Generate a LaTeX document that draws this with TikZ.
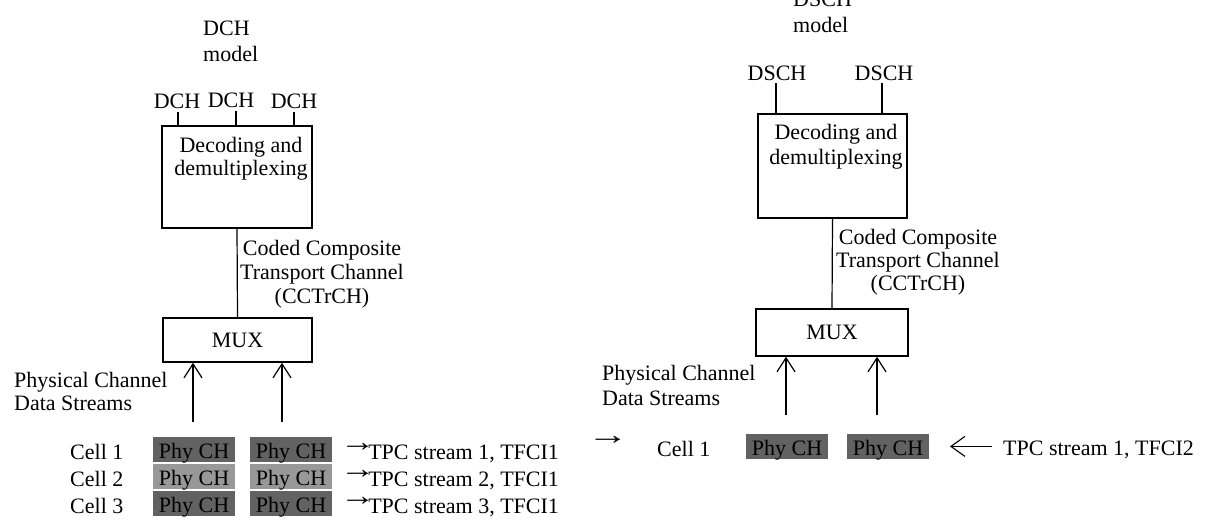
\documentclass[tikz,border=0pt]{standalone}
\usepackage{fontspec}
\setmainfont{Liberation Serif}
\usetikzlibrary{arrows.meta}
\definecolor{phydark}{RGB}{98,98,98}
\definecolor{phylight}{RGB}{152,152,152}
\newcommand{\tarr}{\kern-7pt\raisebox{8pt}{\scalebox{1.35}[1.1]{\fontsize{26}{26}\selectfont →}}\kern-7pt}
\newcommand{\tarrb}{\kern-8pt\raisebox{8pt}{\scalebox{1.6}[1.1]{\fontsize{26}{26}\selectfont →}}}
\begin{document}
\begin{tikzpicture}[x=1pt,y=-1pt,
  txt/.style={inner sep=0pt, font=\fontsize{22}{24}\selectfont},
  blk/.style={draw, line width=1.5pt, inner sep=0pt, font=\fontsize{22}{24}\selectfont},
  wire/.style={line width=1.2pt},
  upar/.style={line width=1.2pt, -{Straight Barb[length=14pt,width=18pt,line width=1.2pt]}},
  larr/.style={line width=1.1pt, -{Straight Barb[length=14pt,width=20pt,line width=1.1pt]}},
  phy/.style={inner xsep=0pt, inner ysep=1.5pt, minimum width=82pt, minimum height=25pt,
     text height=20pt, text depth=1.5pt, font=\fontsize{22}{24}\selectfont},
]
\useasboundingbox (0,0) rectangle (1207,528);

% ---------------- left: DCH model ----------------
\node[txt, align=left, anchor=base west, font=\fontsize{22}{26}\selectfont] (dchm) at (203,61) {DCH\\model};
\node[txt, anchor=base] (dch1) at (177,108) {DCH};
\node[txt, anchor=base] (dch2) at (231,107) {DCH};
\node[txt, anchor=base] (dch3) at (294,108) {DCH};
\node[blk, minimum width=150pt, minimum height=102pt] (dec1) at (237,177) {};
\node[txt, align=center, anchor=base, font=\fontsize{22}{23}\selectfont] (dec1t) at (241,175) {Decoding and\\demultiplexing};
\coordinate (t1) at ([xshift=1pt,yshift=-4pt]dch1.base);
\coordinate (t2) at ([xshift=5pt,yshift=-4pt]dch2.base);
\coordinate (t3) at ([yshift=-4pt]dch3.base);
\draw[wire] (t1) -- (t1 |- dec1.north);
\draw[wire] (t2) -- (t2 |- dec1.north);
\draw[wire] (t3) -- (t3 |- dec1.north);

\node[blk, minimum width=149pt, minimum height=44pt] (mux1) at (237.5,340) {MUX};
\draw[wire] (dec1.south) -- (mux1.north);
\node[txt, align=center, anchor=base, font=\fontsize{22}{24}\selectfont] (cc1) at (322,303) {Coded Composite\\Transport Channel\\(CCTrCH)};

\node[txt, align=left, anchor=base west, font=\fontsize{22}{23}\selectfont] (pcds1) at (14,410) {Physical Channel\\Data Streams};
\coordinate (s1) at (193,422);
\coordinate (s2) at (282,422);
\draw[upar] (s1) -- (s1 |- mux1.south);
\draw[upar] (s2) -- (s2 |- mux1.south);

\node[phy, fill=phydark] (p11) at (194,449.5) {Phy CH};
\node[phy, fill=phydark] (p12) at (291,449.5) {Phy CH};
\node[phy, fill=phylight] (p21) at (194,476) {Phy CH};
\node[phy, fill=phylight] (p22) at (291,476) {Phy CH};
\node[phy, fill=phydark] (p31) at (194,503.5) {Phy CH};
\node[phy, fill=phydark] (p32) at (291,503.5) {Phy CH};

\node[txt, anchor=base west] (c1) at (70,459) {Cell 1};
\node[txt, anchor=base west] (c2) at (70,486) {Cell 2};
\node[txt, anchor=base west] (c3) at (70,513) {Cell 3};
\node[txt, anchor=base west] (tp1) at (347,459) {\tarr TPC stream 1, TFCI1};
\node[txt, anchor=base west] (tp2) at (347,486) {\tarr TPC stream 2, TFCI1};
\node[txt, anchor=base west] (tp3) at (347,513) {\tarr TPC stream 3, TFCI1};

% ---------------- right: DSCH model ----------------
\node[txt, align=left, anchor=base west, font=\fontsize{22}{26}\selectfont] (dschm) at (793,32) {DSCH\\model};
\node[txt, anchor=base] (ds1) at (777,80) {DSCH};
\node[txt, anchor=base] (ds2) at (884,80) {DSCH};
\node[blk, minimum width=149pt, minimum height=104pt] (dec2) at (832.5,166) {};
\node[txt, align=center, anchor=base, font=\fontsize{22}{25}\selectfont] (dec2t) at (836,164) {Decoding and\\demultiplexing};
\coordinate (u1) at ([xshift=-1pt,yshift=-3pt]ds1.base);
\coordinate (u2) at ([xshift=-2pt,yshift=-3pt]ds2.base);
\draw[wire] (u1) -- (u1 |- dec2.north);
\draw[wire] (u2) -- (u2 |- dec2.north);

\node[blk, minimum width=152pt, minimum height=47pt] (mux2) at (832,332.5) {MUX};
\draw[wire] (dec2.south) -- (mux2.north);
\node[txt, align=center, anchor=base, font=\fontsize{22}{23}\selectfont] (cc2) at (918,290) {Coded Composite\\Transport Channel\\(CCTrCH)};

\node[txt, align=left, anchor=base west, font=\fontsize{22}{25}\selectfont] (pcds2) at (602,405) {Physical Channel\\Data Streams};
\coordinate (r1) at (786,415);
\coordinate (r2) at (877,415);
\draw[upar] (r1) -- (r1 |- mux2.south);
\draw[upar] (r2) -- (r2 |- mux2.south);

\node[txt, anchor=base west] (ar0) at (595,452) {\tarrb};
\node[txt, anchor=base west] (c4) at (657,456) {Cell 1};
\node[phy, fill=phydark] (p41) at (787,446) {Phy CH};
\node[phy, fill=phydark] (p42) at (888,446) {Phy CH};
\node[txt, anchor=base west] (tpr) at (1003,455) {TPC stream 1, TFCI2};
\coordinate (la) at ([xshift=-11pt,yshift=3pt]tpr.west);
\draw[larr] (la) -- ++(-42,0);
\end{tikzpicture}
\end{document}
